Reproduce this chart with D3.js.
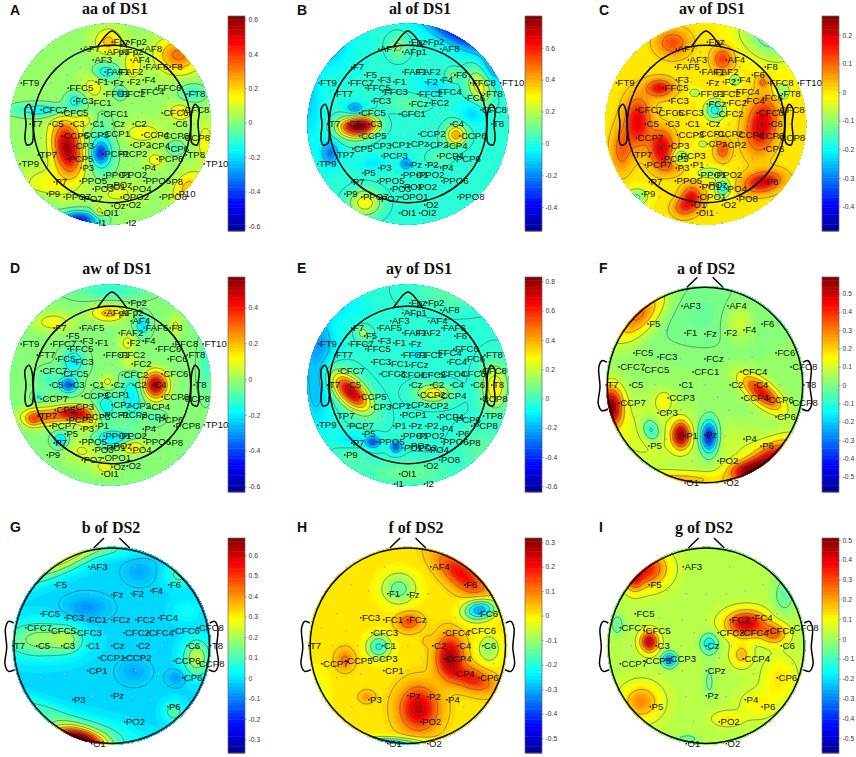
<!DOCTYPE html>
<html>
<head>
<meta charset="utf-8">
<script src="https://cdn.jsdelivr.net/npm/d3@7"></script>
<style>
body{margin:0;background:#fff}
svg{display:block}
</style>
</head>
<body>
<div id="chart"></div>
<script>
// electrode montages in head units (disk radius = 100, y grows towards the back)
// left name, right name, lateral distance, y
const pairsDS1 = [["Fp1","Fp2",17,-82],["AF7","AF8",31,-75],["AFp1","AFp2",7,-72],["AF3","AF4",19,-64],["FAF5","FAF6",32,-57],["FAF1","FAF2",7,-52],["F7","F8",58,-57],["F5","F6",45,-49],["F3","F4",31,-44],["F1","F2",16,-42],["FT9","FT10",91,-41],["FFC7","FFC8",61,-41],["FT7","FT8",75,-30],["FFC5","FFC6",44,-36],["FFC3","FFC4",27,-32],["FFC1","FFC2",8,-30],["FC5","FC6",56,-26],["FC3","FC4",38,-23],["FC1","FC2",20,-21],["CFC7","CFC8",71,-14],["CFC5","CFC6",50,-11],["CFC3","CFC4",30,-11],["CFC1","CFC2",10,-10],["T7","T8",82,0],["C5","C6",62,0],["C3","C4",41,0],["C1","C2",21,0],["CCP7","CCP8",71,14],["CCP5","CCP6",50,12],["CCP3","CCP4",30,11],["CCP1","CCP2",9,10],["TP7","TP8",74,31],["CP5","CP6",57,25],["CP3","CP4",38,22],["CP1","CP2",19,21],["TP9","TP10",92,40],["PCP7","PCP8",62,41],["PCP5","PCP6",45,35],["PCP3","PCP4",28,32],["PCP1","PCP2",9,30],["P9","P10",65,70],["P7","P8",58,58],["P5","P6",47,49],["P3","P4",31,44],["P1","P2",16,41],["PPO7","PPO8",48,73],["PPO5","PPO6",32,57],["PPO1","PPO2",8,51],["PO7","PO8",30,75],["PO3","PO4",19,65],["PO1","PO2",7,63],["OPO1","OPO2",9,73],["O1","O2",15,81],["OI1","OI2",10,89],["I1","I2",15,99]];
const midlineDS1 = [["Fpz",-82],["Fz",-41],["FCz",-20],["Cz",0],["CPz",20],["Pz",41],["POz",61],["Oz",82]];
const pairsDS2 = [["AF3","AF4",23,-79],["F5","F6",57,-61],["F3","F4",39,-55],["F1","F2",20,-52],["FC5","FC6",71,-32],["FC3","FC4",47,-28],["FC1","FC2",24,-26],["CFC7","CFC8",86,-18],["CFC5","CFC6",62,-15],["CFC3","CFC4",36,-13],["CFC1","CFC2",12,-13],["T7","T8",99,0],["C5","C6",75,0],["C3","C4",50,0],["C1","C2",25,0],["CCP7","CCP8",86,18],["CCP5","CCP6",62,15],["CCP3","CCP4",37,13],["CCP1","CCP2",13,12],["CP5","CP6",71,32],["CP3","CP4",47,28],["CP1","CP2",24,25],["P5","P6",56,61],["P3","P4",39,54],["P1","P2",20,51],["PO1","PO2",13,76],["O1","O2",20,98]];
const midlineDS2 = [["Fz",-51],["FCz",-26],["Cz",0],["CPz",25],["Pz",50]];

// labelled channels of each map
const shownA = "Fpz AF7 AFp1 AFp2 Fp2 AF8 AF3 AF4 FAF6 F8 FAF1 FAF2 F1 Fz F2 F4 FT9 FFC5 FFC1 FFC2 FFC4 FFC6 FT8 FC3 FC1 CFC7 CFC5 CFC1 CFC6 CFC8 T7 C5 C3 C1 Cz C2 C6 CCP5 CCP3 CCP1 CCP4 CCP6 CCP8 CP3 CP2 CP4 CP6 TP7 TP9 PCP1 PCP2 PCP5 PCP6 TP8 TP10 P3 P4 P7 P8 PPO5 PPO1 PPO2 PPO6 PO3 PO1 POz PO4 P9 PPO7 PO7 OPO2 PPO8 P10 Oz O2 OI1 I1 I2".split(" ");
const shownB = "AF7 AFp1 Fpz Fp2 AF8 F7 F5 FAF1 FAF2 F6 FT9 FFC7 F3 F1 F2 F4 FFC8 FT10 FT7 FFC5 FFC3 FFC2 FFC4 FT8 FC3 FCz FC2 FC6 CFC8 CFC5 CFC1 T7 C5 C3 C4 T8 CCP5 CCP2 CCP6 CP5 CP3 CP1 CPz CP2 CP4 TP7 PCP3 PCP4 PCP6 TP9 Pz P2 P4 P3 P5 PPO1 PPO2 PPO5 PPO6 P7 PO3 PO1 PO2 P9 PPO7 PO7 OPO1 O2 PPO8 OI1 OI2".split(" ");
const shownC = "Fpz AF7 AF3 AF4 FAF5 FAF1 FAF2 F8 F6 F4 FT9 F3 Fz F2 FFC8 FT10 FFC5 FFC1 FFC2 FFC4 FT8 FC3 FCz FC2 FC4 FC6 CFC7 CFC5 CFC3 CFC2 CFC6 CFC8 C5 C3 C1 Cz C6 CCP7 CCP3 CCP1 CCP2 CCP4 CCP6 CCP8 CP3 CPz CP2 CP6 TP7 PCP5 PCP3 PCP7 P3 P1 PPO1 PPO2 P7 PPO5 PO1 POz PO4 P8 P9 OPO1 O1 O2 PO8 OI1".split(" ");
const shownD = "Fp2 AFp1 AFp2 AF4 FAF6 F8 F7 FAF5 FAF2 F5 F3 F1 F2 F4 FT9 FFC7 FFC8 FT10 FT7 FFC5 FFC1 FFC2 FFC6 FT8 FC5 FC3 FC2 FC6 CFC7 CFC5 CFC2 CFC6 C5 C3 C1 Cz C2 C4 T8 CCP7 CCP3 CCP1 CCP6 CCP8 CP5 CP3 CPz CP2 CP4 TP7 PCP5 PCP3 PCP1 PCP2 PCP4 PCP6 PCP7 P3 P1 P4 PCP8 TP10 P5 P7 PPO5 PPO1 PPO2 PPO6 P8 PO3 PO1 POz PO4 P9 PO7 OPO1 Oz O2 OI1".split(" ");
const shownE = "Fpz Fp2 AF8 AFp1 AF3 AF4 FAF5 FAF6 F7 F5 F6 FAF1 FAF2 FT9 FFC7 F3 F1 Fz FFC5 FFC1 FFC2 FFC4 FFC6 FT7 FT8 FC3 FC1 FCz FC4 FC6 CFC7 CFC3 CFC1 CFC2 CFC4 CFC6 CFC8 T7 C5 C2 C4 C6 T8 Cz CCP5 CCP2 CCP4 CCP8 CP3 CP1 CPz CP2 TP7 TP8 PCP1 PCP4 PCP6 TP9 PCP7 PCP8 P1 Pz P2 P4 P6 P5 PPO1 PPO2 P7 PPO5 PPO6 P8 PO1 POz PO2 PO4 P9 O2 PO8 OI1 I1 I2".split(" ");
const shownF = "AF3 AF4 F5 F1 Fz F2 F4 F6 FC5 FC3 FCz FC6 CFC7 CFC5 CFC1 CFC4 CFC8 T7 C5 C1 C2 C4 T8 CCP7 CCP3 CCP4 CCP6 CCP8 CP3 CP6 P5 P1 Pz P4 P6 PO2 O1 O2".split(" ");
const shownG = "AF3 F5 Fz F2 F4 F6 FC5 FC3 FC1 FCz FC2 FC4 CFC7 CFC5 CFC3 CFC2 CFC4 CFC6 CFC8 T7 C5 C3 C1 Cz C2 C6 T8 CCP1 CCP2 CCP6 CCP8 CP1 CP6 P3 Pz P6 PO2 O1".split(" ");
const shownH = "AF4 F6 F1 Fz FC3 FC1 FCz FC6 CFC3 CFC4 CFC6 T7 C1 C2 C4 C6 CCP7 CCP5 CCP3 CCP4 CP1 CP4 CP6 P3 Pz P2 P4 PO2 O1 O2".split(" ");
const shownI = "AF3 F5 FC5 FC2 FC4 CFC7 CFC5 CFC2 CFC4 CFC6 CFC8 C3 Cz C6 CCP7 CCP5 CCP3 CCP4 CPz CP6 Pz P4 P6 P5 PO2 O1 O2".split(" ");

// scalp value patches: x, y, value, spread x, spread y, tilt
const patchesA = [[-43,24,.55,10,19,-10],[-10,29,-.33,6,8,0],[-8,25,-.12,11,24,0],[68,-69,.3,15,12,0],[-2,-82,.2,9,9,0],[-65,63,.12,17,14,0],[77,63,.2,8,12,40],[-32,96,-.5,14,6,0],[-68,-14,-.2,22,5,0],[-35,-24,-.17,8,6,0],[-5,-52,-.2,9,6,0],[10,-31,-.2,4,4,0],[82,-31,-.15,9,6,0],[-17,-37,.12,8,10,0],[22,-59,.15,6,10,0],[70,-12,.15,8,6,0],[32,9,.12,14,7,0],[-25,-4,.12,6,5,0],[45,36,.12,6,5,0],[5,69,.1,15,8,0],[-12,88,.15,4,4,0],[65,24,-.12,6,5,0],[95,19,.12,6,14,0],[-72,79,-.12,12,8,0]];
const patchesB = [[-45,1,.72,10,6,0],[-62,2,.3,8,6,0],[-53,9,.25,10,6,0],[48,11,.42,7,7,0],[72,-37,.3,8,12,-20],[45,-49,.15,4,4,0],[-43,79,.3,11,9,0],[52,-91,-.36,28,9,25],[85,-57,-.15,8,15,0],[-82,-81,-.16,15,15,0],[-98,-24,-.1,8,30,0],[-53,-16,-.2,6,4,0],[-78,29,-.22,6,8,0],[-2,40,-.22,4,4,0],[-10,-77,.14,7,8,0],[25,-37,-.08,10,5,0],[65,-11,-.1,8,8,0],[-35,39,-.08,8,4,0],[-2,-21,.08,15,6,0],[32,33,.08,8,5,0]];
const patchesC = [[-68,-2,.19,9,17,0],[56,1,.21,10,18,10],[-44,24,.21,8,12,0],[-46,-36,.18,9,6,0],[17,-65,.13,7,8,0],[-33,-81,.12,11,9,0],[57,58,.2,13,7,-10],[-14,74,.18,7,8,0],[-23,84,.11,7,6,0],[-84,26,.1,7,15,0],[17,26,.12,5,7,0],[57,-42,.09,4,4,0],[-36,43,.06,10,6,0],[9,-14,-.2,7,7,0],[17,64,-.2,5,6,0],[4,49,-.1,10,4,0],[-3,20,-.08,4,3,0],[-11,-31,-.1,4,3,0],[29,-44,-.12,4,4,0],[-26,33,-.12,6,5,0],[77,-32,-.12,5,6,0],[61,-84,-.12,22,14,30],[-69,73,-.12,8,6,0]];
const patchesD = [[45,0,.55,8,9,0],[-37,28,.5,12,5,0],[-68,32,.3,14,6,0],[-78,35,.15,5,5,0],[-22,35,.15,8,8,0],[-2,-72,.22,12,6,0],[17,-42,.12,6,7,0],[20,-22,.1,6,5,0],[-57,-63,.13,14,7,0],[65,-60,.1,5,7,0],[-28,65,.1,12,10,0],[22,62,.2,9,5,0],[-5,82,.12,8,6,0],[-3,-3,.12,5,5,0],[-42,0,-.36,6,5,0],[-37,-23,-.18,8,9,0],[-62,-5,-.08,8,8,0],[22,12,-.18,8,15,0],[-5,22,-.16,8,10,0],[2,53,-.2,14,6,0],[32,-60,-.2,5,7,0],[-50,55,-.22,5,5,0],[0,-95,-.1,25,7,0],[-72,12,-.12,4,3,0],[45,32,-.08,6,5,0],[95,-18,-.08,5,20,0]];
const patchesE = [[-57,7,.78,16,8,45],[25,8,.33,11,6,0],[87,2,.33,9,15,0],[-45,-52,.2,4,4,0],[-92,-2,-.15,10,35,0],[-88,-45,-.13,12,16,0],[-72,-78,-.08,20,10,0],[-35,57,-.32,5,4,0],[-12,62,-.32,4,4,0],[-58,55,-.1,10,5,0],[8,-31,-.1,4,4,0],[-2,88,.1,30,8,0],[45,-92,.08,25,10,0],[75,65,.08,15,15,0],[-58,72,.06,12,8,0]];
const patchesF = [[-24,50,.52,6,9,0],[57,8,.42,17,7,40],[-94,22,.55,8,14,0],[62,78,.5,22,10,-35],[42,85,.3,14,6,0],[-30,95,.2,45,6,0],[-66,-70,.3,22,11,-45],[34,-63,.1,10,13,0],[-41,15,.1,6,7,0],[-60,50,.09,30,25,0],[30,60,.06,30,15,0],[4,52,-.5,6,11,0],[-54,45,-.22,6,8,-20],[0,-70,-.05,50,30,0]];
const patchesG = [[-32,94,.7,18,7,15],[-30,86,.14,36,10,10],[-72,-6,.2,24,12,0],[-44,-6,.12,10,9,0],[-48,-88,.3,36,9,-25],[85,12,.24,9,12,0],[62,66,.12,7,7,0],[-72,62,.08,25,6,20],[-25,-38,-.07,14,8,0],[65,32,-.07,6,5,0],[22,26,-.05,10,8,0],[68,-71,.1,10,8,0],[28,-74,-.05,10,8,0],[0,-95,.06,20,5,0],[75,-35,.05,10,8,0]];
const patchesH = [[11,63,.25,13,15,0],[42,11,.27,9,14,0],[64,33,.18,15,8,20],[54,-71,.2,21,9,40],[1,-24,.14,8,6,0],[-63,14,.1,6,7,0],[-41,51,.07,5,4,0],[19,-5,.02,4,4,0],[72,-36,-.33,11,7,-10],[-9,-57,-.16,12,11,0],[-29,1,-.22,8,8,0],[81,3,-.12,8,10,0],[-23,98,-.3,25,4,0],[-90,46,-.05,8,15,0]];
const patchesI = [[40,-22,.4,14,9,0],[-57,-4,.42,6,7,0],[68,-12,.23,9,7,0],[35,9,.15,7,8,0],[-60,-77,.33,14,12,0],[-72,-65,.2,6,8,0],[-65,56,.2,13,12,0],[73,33,.1,12,16,0],[21,73,.1,10,5,0],[51,59,.08,12,10,0],[-37,14,-.35,5,5,0],[3,-2,-.22,6,7,0],[3,36,-.08,4,12,0],[-89,-21,-.1,5,8,0],[78,-51,-.1,8,14,0],[-19,93,-.1,8,3,0]];

// colour bar ranges and ticks
const rangesA = [-.63,.62], ticksA = [.6,.4,.2,0,-.2,-.4,-.6];
const rangesB = [-.55,.8],  ticksB = [.6,.4,.2,0,-.2,-.4];
const rangesC = [-.486,.266], ticksC = [.2,.1,0,-.1,-.2,-.3,-.4];
const rangesD = [-.63,.57], ticksD = [.4,.2,0,-.2,-.4,-.6];
const rangesE = [-.64,.83], ticksE = [.8,.6,.4,.2,0,-.2,-.4,-.6];
const rangesF = [-.585,.59], ticksF = [.5,.4,.3,.2,.1,0,-.1,-.2,-.3,-.4,-.5];
const rangesG = [-.367,.684], ticksG = [.6,.5,.4,.3,.2,.1,0,-.1,-.2,-.3];
const rangesH = [-.56,.316], ticksH = [.3,.2,.1,0,-.1,-.2,-.3,-.4,-.5];
const rangesI = [-.576,.51], ticksI = [.5,.4,.3,.2,.1,0,-.1,-.2,-.3,-.4,-.5];

const baseLevels = {A:.03,B:0,C:0,D:-.02,E:-.03,F:.03,G:-.01,H:.01,I:.03};

const panels = [
  {id:"A",title:"aa of DS1",set:1,shown:shownA,patches:patchesA,range:rangesA,ticks:ticksA,dot:"#b9a5c4"},
  {id:"B",title:"al of DS1",set:1,shown:shownB,patches:patchesB,range:rangesB,ticks:ticksB,dot:"#f08ab0"},
  {id:"C",title:"av of DS1",set:1,shown:shownC,patches:patchesC,range:rangesC,ticks:ticksC,dot:"#8aa0e0"},
  {id:"D",title:"aw of DS1",set:1,shown:shownD,patches:patchesD,range:rangesD,ticks:ticksD,dot:"#b9a5c4"},
  {id:"E",title:"ay of DS1",set:1,shown:shownE,patches:patchesE,range:rangesE,ticks:ticksE,dot:"#f08ab0"},
  {id:"F",title:"a of DS2",set:2,shown:shownF,patches:patchesF,range:rangesF,ticks:ticksF,dot:"#c58ae0"},
  {id:"G",title:"b of DS2",set:2,shown:shownG,patches:patchesG,range:rangesG,ticks:ticksG,dot:"#f09a9a"},
  {id:"H",title:"f of DS2",set:2,shown:shownH,patches:patchesH,range:rangesH,ticks:ticksH,dot:"#a0a8d8"},
  {id:"I",title:"g of DS2",set:2,shown:shownI,patches:patchesI,range:rangesI,ticks:ticksI,dot:"#c58ae0"}
];

// page layout, per panel
const layout = {
  A:{cx:110.5,cy:124,hx:112,bar:228,barTop:16,letter:[10,15],titleAt:[115,14]},
  B:{cx:408,cy:124,hx:408,bar:525,barTop:16,letter:[297,15],titleAt:[420,14]},
  C:{cx:705.7,cy:124,hx:706,bar:822,barTop:16,letter:[599,15],titleAt:[712,14]},
  D:{cx:110.5,cy:385,hx:112,bar:228,barTop:277,letter:[10,273],titleAt:[117,274]},
  E:{cx:408,cy:385,hx:408,bar:525,barTop:277,letter:[297,273],titleAt:[419,274]},
  F:{cx:705,cy:385,hx:705,bar:822,barTop:277,letter:[599,273],titleAt:[706,274]},
  G:{cx:111.7,cy:645.7,hx:111.7,bar:228,barTop:538,letter:[10,532],titleAt:[111,533]},
  H:{cx:407.8,cy:645.7,hx:407.8,bar:525,barTop:538,letter:[297,532],titleAt:[416,533]},
  I:{cx:706.3,cy:645.7,hx:706.3,bar:822,barTop:538,letter:[599,532],titleAt:[704,533]}
};

function montage(pairs, midline){
  const m = new Map();
  pairs.forEach(p=>{ m.set(p[0],[-p[2],p[3]]); m.set(p[1],[p[2],p[3]]); });
  midline.forEach(p=>m.set(p[0],[0,p[1]]));
  return m;
}
const montages = {1:montage(pairsDS1,midlineDS1), 2:montage(pairsDS2,midlineDS2)};

// matlab jet
const jet = d3.scaleLinear()
  .domain([0,.125,.375,.625,.875,1])
  .range(["#00008f","#0000ff","#00ffff","#ffff00","#ff0000","#800000"])
  .clamp(true);

const svg = d3.select("#chart").append("svg").attr("width",856).attr("height",757);
const defs = svg.append("defs");

const gridN = 110;
const noseDS1 = [[-15,-76.7],[-4,-90.7],[0,-93],[4,-90.7],[15,-76.7]];
const earDS1 = [[-80,-13],[-83,-19.7],[-87,-15],[-86,0],[-87,15],[-85,21],[-80,19],[-79,0]];
const earDS2 = [[-98,-22.7],[-103,-24.3],[-106.2,-17.7],[-105,2],[-106.7,19],[-103,25.7],[-97,24]];

panels.forEach(drawPanel);

function drawPanel(p){
  const l = layout[p.id];
  const g = svg.append("g");
  const diskR = p.set==1 ? 100.5 : 99;
  const headR = p.set==1 ? 78.7 : 97.7;
  const shift = p.set==1 ? 1.7 : 0;

  const x = d3.scaleLinear().domain([-100,100]).range([l.cx-100,l.cx+100]);
  const y = d3.scaleLinear().domain([-100,100]).range([l.cy-100,l.cy+100]);
  const hx = d3.scaleLinear().domain([-100,100]).range([l.hx-100,l.hx+100]);

  // value field on a grid
  const gx = d3.scaleLinear().domain([0,gridN]).range([-104,104]);
  const base = baseLevels[p.id];
  const values = new Float64Array(gridN*gridN);
  for(let j=0;j<gridN;j++){
    for(let i=0;i<gridN;i++){
      const px = gx(i+.5), py = gx(j+.5);
      let v = base;
      p.patches.forEach(b=>{
        const a = b[5]*Math.PI/180;
        const dx = px-b[0], dy = py-b[1];
        const u = (dx*Math.cos(a)+dy*Math.sin(a))/b[3];
        const w = (-dx*Math.sin(a)+dy*Math.cos(a))/b[4];
        v += b[2]*Math.exp(-(u*u+w*w)/2);
      });
      values[j*gridN+i] = v;
    }
  }

  const toPx = d3.geoPath(d3.geoTransform({
    point(a,b){ this.stream.point(x(gx(a)),y(gx(b))); }
  }));

  const clipId = "clip"+p.id;
  defs.append("clipPath").attr("id",clipId).append("circle")
    .attr("cx",l.cx).attr("cy",l.cy).attr("r",diskR);

  const color = d3.scaleLinear().domain(p.range).range([0,1]);
  const bands = d3.range(64).map(i=>p.range[0]+i*(p.range[1]-p.range[0])/64);
  bands[0] = -9;

  const map = g.append("g").attr("clip-path","url(#"+clipId+")");
  map.selectAll("path.band")
    .data(d3.contours().size([gridN,gridN]).thresholds(bands)(values))
    .enter().append("path")
    .attr("class","band")
    .attr("d",toPx)
    .attr("fill",d=>jet(color(Math.max(d.value,p.range[0])+(p.range[1]-p.range[0])/128)));

  // grey isolines
  const levels = d3.range(1,12).map(i=>p.range[0]+i*(p.range[1]-p.range[0])/12);
  map.selectAll("path.iso")
    .data(d3.contours().size([gridN,gridN]).thresholds(levels)(values))
    .enter().append("path")
    .attr("class","iso")
    .attr("d",toPx)
    .attr("fill","none")
    .attr("stroke","#555")
    .attr("stroke-opacity",.75)
    .attr("stroke-width",.8);

  // head outline
  const line = d3.line().x(d=>hx(d[0])).y(d=>y(d[1]));
  const head = g.append("g").attr("fill","none").attr("stroke","#000").attr("stroke-width",1.5);
  head.append("circle").attr("cx",hx(0)).attr("cy",y(0)).attr("r",headR);
  if(p.set==1){
    head.append("path").attr("d",line.curve(d3.curveCatmullRom)(noseDS1));
    line.curve(d3.curveCatmullRomClosed);
    head.append("path").attr("d",line(earDS1));
    head.append("path").attr("d",line(earDS1.map(d=>[-d[0],d[1]])));
  } else {
    head.append("path").attr("d",line.curve(d3.curveLinear)([[-18,-97.7],[-7.7,-107.7]]));
    head.append("path").attr("d",line([[18,-97.7],[7.7,-107.7]]));
    line.curve(d3.curveCatmullRom);
    head.append("path").attr("d",line(earDS2));
    head.append("path").attr("d",line(earDS2.map(d=>[-d[0],d[1]])));
  }

  // channels: unlabelled ones stay pale dots
  const channels = Array.from(montages[p.set],d=>({name:d[0],x:d[1][0]+shift,y:d[1][1]}));
  g.selectAll("rect.ch")
    .data(channels.filter(d=>!p.shown.includes(d.name)))
    .enter().append("rect")
    .attr("class","ch")
    .attr("x",d=>x(d.x)-.7).attr("y",d=>y(d.y)-.7)
    .attr("width",1.4).attr("height",1.4)
    .attr("fill",p.dot);

  const on = channels.filter(d=>p.shown.includes(d.name));
  g.selectAll("rect.on").data(on).enter().append("rect")
    .attr("class","on")
    .attr("x",d=>x(d.x)-.7).attr("y",d=>y(d.y)-.7)
    .attr("width",1.4).attr("height",1.4)
    .attr("fill","#000");
  g.selectAll("text.ch").data(on).enter().append("text")
    .attr("class","ch")
    .text(d=>d.name)
    .attr("x",d=>x(d.x)+1.2)
    .attr("y",d=>y(d.y)+3.4)
    .attr("font-family","'Liberation Sans',Arial,sans-serif")
    .attr("font-size",9.6)
    .attr("fill","#111");

  // title and letter
  g.append("text").text(p.title)
    .attr("x",l.titleAt[0]).attr("y",l.titleAt[1])
    .attr("text-anchor","middle")
    .attr("font-family","'Liberation Serif','Times New Roman',serif")
    .attr("font-weight","bold").attr("font-size",16).attr("fill","#111");
  g.append("text").text(p.id)
    .attr("x",l.letter[0]).attr("y",l.letter[1])
    .attr("font-family","'Liberation Sans',Arial,sans-serif")
    .attr("font-weight","bold").attr("font-size",14).attr("fill","#111");

  // colour bar
  const barW = 17, barH = 215;
  const barY = d3.scaleLinear().domain(p.range).range([l.barTop+barH,l.barTop]);
  const barBands = d3.range(64);
  const bar = g.append("g");
  bar.selectAll("rect").data(barBands).enter().append("rect")
    .attr("x",l.bar)
    .attr("y",i=>barY(p.range[0]+(i+1)*(p.range[1]-p.range[0])/64))
    .attr("width",barW)
    .attr("height",barH/64+.4)
    .attr("fill",i=>jet((i+.5)/64));
  bar.append("rect").attr("x",l.bar).attr("y",l.barTop).attr("width",barW).attr("height",barH)
    .attr("fill","none").attr("stroke","#666").attr("stroke-width",.7);

  const axis = d3.axisRight(barY).tickValues(p.ticks).tickSize(2).tickPadding(1.5).tickFormat(d=>String(d));
  const ax = g.append("g").attr("transform","translate("+(l.bar+barW)+",0)").call(axis);
  ax.select(".domain").remove();
  ax.selectAll("line").attr("stroke","#777").attr("stroke-width",.5);
  ax.selectAll("text")
    .attr("font-family","'Liberation Sans',Arial,sans-serif")
    .attr("font-size",6.8).attr("fill","#333");
}
</script>
</body>
</html>
